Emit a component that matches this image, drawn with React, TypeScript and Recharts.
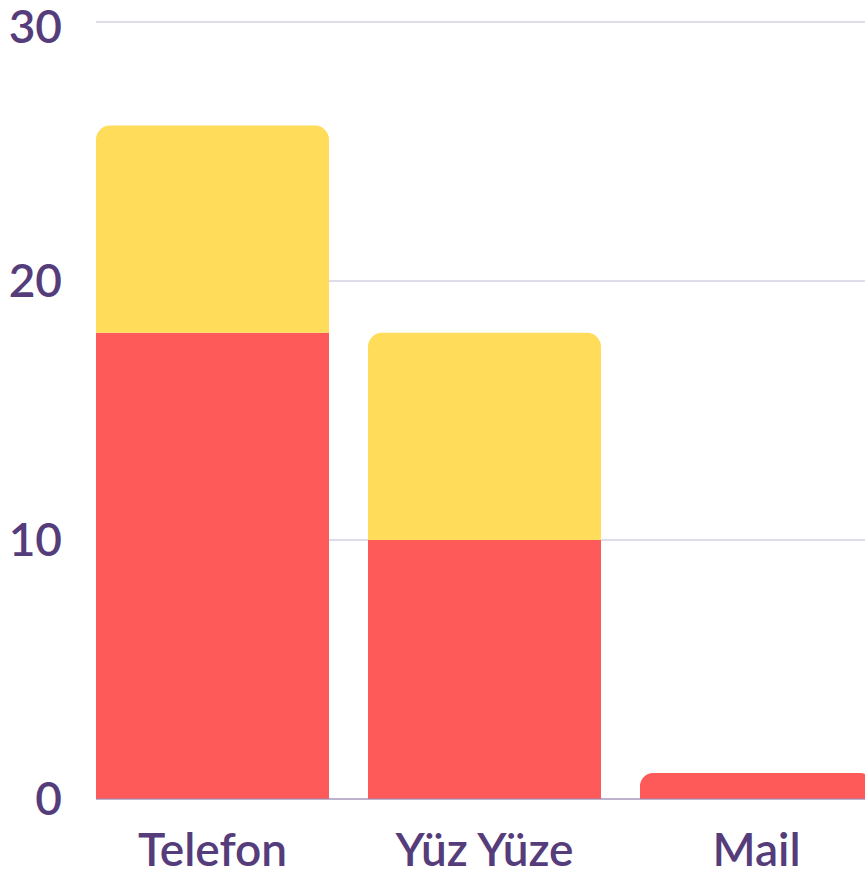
import { BarChart, Bar, XAxis, YAxis, CartesianGrid, Rectangle } from 'recharts';

const categories = ['Telefon', 'Yüz Yüze', 'Mail'];
const redValues = [18, 10, 1];
const yellowValues = [8, 8, 0];
const yTicks = [0, 10, 20, 30];

const data = categories.map((name, i) => ({ name, red: redValues[i], yellow: yellowValues[i] }));

const purple = '#553c7a';
const tickFont = { fill: purple, fontSize: 46, fontFamily: 'Lato', fontWeight: 600 };

// red gets the rounded top only where nothing is stacked on it
const RedShape = (props: any) => {
  const top = props.payload && props.payload.yellow === 0;
  return <Rectangle {...props} radius={top ? [14, 14, 0, 0] : 0} />;
};

export default function App() {
  return (
    <div style={{ position: 'absolute', left: 0, top: 0, width: 865, height: 876, overflow: 'hidden', background: '#fff' }}>
      <BarChart
        width={920}
        height={876}
        data={data}
        margin={{ top: 22, right: 8, bottom: 0, left: 0 }}
        barCategoryGap={19.5}
      >
        <CartesianGrid vertical={false} stroke="#d5cfe0" strokeWidth={1.5} />
        <XAxis
          dataKey="name"
          height={77}
          padding={{ left: -19.5, right: 19.5 }}
          stroke="#9c87b0"
          tickLine={false}
          tickMargin={28}
          tick={tickFont}
        />
        <YAxis
          width={96}
          domain={[0, 30]}
          ticks={yTicks}
          axisLine={false}
          tickLine={false}
          tickMargin={28}
          tick={tickFont}
        />
        <Bar dataKey="red" stackId="a" fill="#ff5a5a" shape={RedShape} isAnimationActive={false} />
        <Bar dataKey="yellow" stackId="a" fill="#ffdc5a" radius={[14, 14, 0, 0]} isAnimationActive={false} />
      </BarChart>
    </div>
  );
}
